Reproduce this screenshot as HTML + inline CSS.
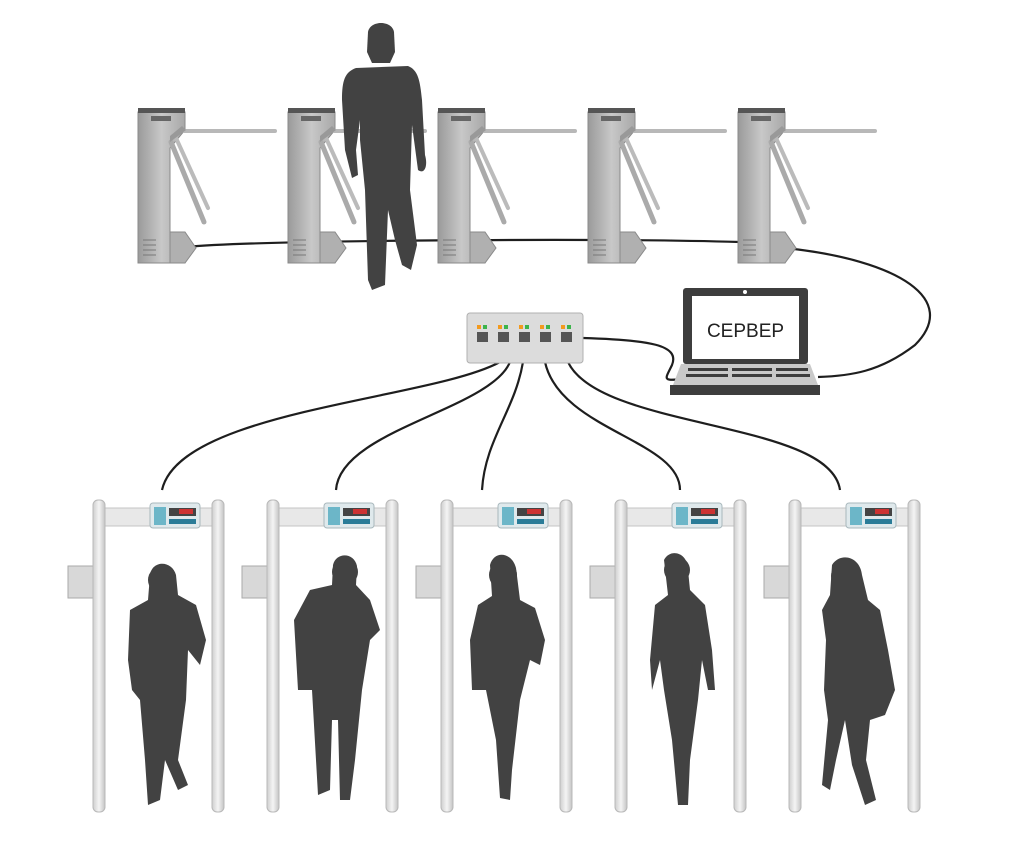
<!DOCTYPE html>
<html><head><meta charset="utf-8"><style>
html,body{margin:0;padding:0;background:#fff;}
svg{display:block}
</style></head><body>
<svg width="1020" height="860" viewBox="0 0 1020 860" xmlns="http://www.w3.org/2000/svg">
<defs>
<linearGradient id="steel" x1="0" x2="1" y1="0" y2="0">
<stop offset="0" stop-color="#9a9a9a"/><stop offset="0.5" stop-color="#c8c8c8"/><stop offset="1" stop-color="#a8a8a8"/>
</linearGradient>
<linearGradient id="post" x1="0" x2="1"><stop offset="0" stop-color="#cfcfcf"/><stop offset="0.5" stop-color="#f4f4f4"/><stop offset="1" stop-color="#c4c4c4"/></linearGradient>
<g id="turn">
<path d="M0,4 H47 V22 L32,40 V124 L47,138 V155 H0 Z" fill="url(#steel)" stroke="#8a8a8a" stroke-width="1"/>
<rect x="0" y="0" width="47" height="5" fill="#555"/>
<rect x="13" y="8" width="20" height="5" fill="#666"/>
<path d="M32,124 L47,124 L58,140 L47,155 L32,155 Z" fill="#b0b0b0" stroke="#8a8a8a"/>
<g stroke="#777" stroke-width="1"><line x1="5" y1="132" x2="18" y2="132"/><line x1="5" y1="137" x2="18" y2="137"/><line x1="5" y1="142" x2="18" y2="142"/><line x1="5" y1="147" x2="18" y2="147"/></g>
<line x1="46" y1="23" x2="137" y2="23" stroke="#b8b8b8" stroke-width="4" stroke-linecap="round"/>
<line x1="33" y1="34" x2="66" y2="114" stroke="#aaa" stroke-width="5" stroke-linecap="round"/>
<line x1="38" y1="30" x2="70" y2="100" stroke="#bbb" stroke-width="4" stroke-linecap="round"/>
<path d="M32,34 L48,22 L44,18 L32,28 Z" fill="#999"/>
</g>
<g id="gate">
<rect x="-25" y="66" width="26" height="32" fill="#d8d8d8" stroke="#aaa"/>
<rect x="0" y="8" width="131" height="18" fill="#e8e8e8" stroke="#c4c4c4"/>
<rect x="0" y="0" width="12" height="312" rx="5" fill="url(#post)" stroke="#b8b8b8"/>
<rect x="119" y="0" width="12" height="312" rx="5" fill="url(#post)" stroke="#b8b8b8"/>
<rect x="57" y="3" width="50" height="25" rx="3" fill="#dfe9ec" stroke="#a9b8bd"/>
<rect x="61" y="7" width="12" height="18" fill="#6cb6c8"/>
<rect x="76" y="8" width="27" height="8" fill="#444"/>
<rect x="86" y="9" width="14" height="5" fill="#c33"/>
<rect x="76" y="19" width="27" height="5" fill="#2a7c98"/>
</g>
</defs>

<g fill="none" stroke="#1e1e1e" stroke-width="2.2">
<path d="M185,247 C260,240 600,238 740,242"/>
<path d="M785,248 C900,260 960,300 915,345 C880,372 850,376 818,377"/>
<path d="M583,338 C650,340 680,345 672,365 C665,380 660,382 690,378"/>
<path d="M500,362 C430,400 180,410 162,490"/>
<path d="M510,362 C490,410 340,430 336,490"/>
<path d="M523,362 C515,410 485,440 482,490"/>
<path d="M545,362 C560,430 680,440 680,490"/>
<path d="M568,362 C600,430 830,420 840,490"/>
</g>

<use href="#turn" x="138" y="108"/>
<use href="#turn" x="288" y="108"/>
<use href="#turn" x="438" y="108"/>
<use href="#turn" x="588" y="108"/>
<use href="#turn" x="738" y="108"/>

<g fill="#424242">
<path d="M368,32 C370,20 392,20 394,32 L395,52 L390,63 L372,63 L367,52 Z"/>
<path d="M356,68 L408,66 C418,70 420,80 422,100 L425,155 C428,165 425,175 418,170 L414,140 L412,125 L410,190 L417,245 L411,270 L402,265 L395,240 L388,210 L385,285 L372,290 L368,280 L365,190 L360,140 L360,120 L356,150 L358,175 L352,178 L345,150 L342,100 C342,80 345,72 356,68 Z"/>
</g>

<rect x="467" y="313" width="116" height="50" rx="3" fill="#dcdcdc" stroke="#b0b0b0"/>
<g>
<rect x="477" y="325" width="4" height="4" fill="#f39a1e"/><rect x="483" y="325" width="4" height="4" fill="#3cb44b"/>
<rect x="498" y="325" width="4" height="4" fill="#f39a1e"/><rect x="504" y="325" width="4" height="4" fill="#3cb44b"/>
<rect x="519" y="325" width="4" height="4" fill="#f39a1e"/><rect x="525" y="325" width="4" height="4" fill="#3cb44b"/>
<rect x="540" y="325" width="4" height="4" fill="#f39a1e"/><rect x="546" y="325" width="4" height="4" fill="#3cb44b"/>
<rect x="561" y="325" width="4" height="4" fill="#f39a1e"/><rect x="567" y="325" width="4" height="4" fill="#3cb44b"/>
<rect x="477" y="332" width="11" height="10" fill="#555"/><rect x="498" y="332" width="11" height="10" fill="#555"/>
<rect x="519" y="332" width="11" height="10" fill="#555"/><rect x="540" y="332" width="11" height="10" fill="#555"/>
<rect x="561" y="332" width="11" height="10" fill="#555"/>
</g>

<rect x="683" y="288" width="125" height="76" rx="3" fill="#3d3d3d"/>
<rect x="692" y="296" width="107" height="63" fill="#fff"/>
<circle cx="745" cy="292" r="2" fill="#fff"/>
<text x="745.5" y="337" text-anchor="middle" font-family="Liberation Sans, sans-serif" font-size="19" fill="#222">СЕРВЕР</text>
<path d="M681,364 H810 L818,385 H673 Z" fill="#c9c9c9"/>
<g fill="#3d3d3d">
<rect x="688" y="368" width="40" height="3"/><rect x="732" y="368" width="40" height="3"/><rect x="776" y="368" width="32" height="3"/>
<rect x="686" y="374" width="42" height="3"/><rect x="732" y="374" width="40" height="3"/><rect x="776" y="374" width="34" height="3"/>
</g>
<rect x="670" y="385" width="150" height="10" fill="#3d3d3d"/>

<use href="#gate" x="93" y="500"/>
<use href="#gate" x="267" y="500"/>
<use href="#gate" x="441" y="500"/>
<use href="#gate" x="615" y="500"/>
<use href="#gate" x="789" y="500"/>

<g fill="#424242">
<circle cx="162" cy="580" r="14"/>
<path d="M150,575 C152,560 172,560 176,575 L178,595 L196,605 L206,640 L200,665 L188,650 L186,700 L178,760 L188,785 L178,790 L165,760 L160,800 L148,805 L145,760 L140,700 L132,690 L128,660 L130,610 L148,600 Z"/>
<circle cx="345" cy="572" r="13"/>
<path d="M333,565 C336,552 354,552 357,566 L356,585 L370,600 L380,630 L370,640 L362,690 L355,760 L350,800 L340,800 L338,720 L332,720 L330,790 L318,795 L312,690 L298,690 L294,620 L310,590 L332,585 Z"/>
<circle cx="503" cy="575" r="14"/>
<path d="M490,565 C494,550 512,552 516,568 L520,600 L535,608 L545,640 L540,665 L530,660 L520,700 L512,770 L510,800 L500,798 L496,740 L486,690 L472,690 L470,640 L478,605 L492,596 Z"/>
<circle cx="677" cy="570" r="13"/>
<path d="M664,560 C670,548 688,552 688,570 L690,590 L705,605 L712,650 L715,690 L708,690 L702,660 L698,700 L690,760 L688,805 L678,805 L672,740 L664,690 L660,660 L652,690 L650,660 L655,605 L668,595 Z"/>
<circle cx="846" cy="576" r="15"/>
<path d="M832,565 C840,552 860,556 862,575 L868,600 L880,610 L888,650 L895,690 L885,715 L870,720 L866,760 L876,800 L865,805 L852,765 L845,720 L836,760 L830,790 L822,785 L828,720 L824,690 L826,640 L822,610 L830,595 Z"/>
</g>
</svg>
</body></html>
